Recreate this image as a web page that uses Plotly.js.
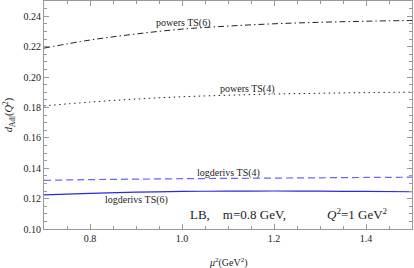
<!DOCTYPE html>
<html><head><meta charset="utf-8">
<script src="https://cdn.plot.ly/plotly-3.0.1.min.js"></script>
<style>html,body{margin:0;padding:0;background:#fff}#c{width:414px;height:268px}</style>
</head><body><div id="c"></div>
<script>
const mu2 = [0.7, 0.8, 0.9, 1.0, 1.1, 1.2, 1.3, 1.4, 1.5];
const powersTS6 = [0.219, 0.2243, 0.2283, 0.2315, 0.2335, 0.235, 0.236, 0.2367, 0.2372];
const powersTS4 = [0.181, 0.1835, 0.1855, 0.187, 0.188, 0.1888, 0.1893, 0.1897, 0.190];
const logderivsTS4 = [0.132, 0.1325, 0.1328, 0.1331, 0.1333, 0.1335, 0.1337, 0.1339, 0.1341];
const logderivsTS6 = [0.1224, 0.1235, 0.1242, 0.1247, 0.1249, 0.125, 0.1249, 0.1247, 0.1245];
const xTicks = [0.8, 1.0, 1.2, 1.4];
const xTickText = ["0.8", "1.0", "1.2", "1.4"];
const yTicks = [0.10, 0.12, 0.14, 0.16, 0.18, 0.20, 0.22, 0.24];
const yTickText = ["0.10", "0.12", "0.14", "0.16", "0.18", "0.20", "0.22", "0.24"];

const F = "Liberation Serif, Times New Roman, serif";
const traces = [
  {x: mu2, y: powersTS6, mode: "lines", line: {color: "#222", width: 1, dash: "6px,3px,1.5px,3px", shape: "spline"}},
  {x: mu2, y: powersTS4, mode: "lines", line: {color: "#222", width: 1, dash: "1.5px,3.5px", shape: "spline"}},
  {x: mu2, y: logderivsTS4, mode: "lines", line: {color: "#6666ff", width: 1.2, dash: "7px,4px", shape: "spline"}},
  {x: mu2, y: logderivsTS6, mode: "lines", line: {color: "#2b2bdf", width: 1.2, shape: "spline"}}
];
const ax = {
  showline: true, linecolor: "#999", linewidth: 1, mirror: "ticks",
  ticks: "inside", ticklen: 5, tickcolor: "#999", showgrid: false, zeroline: false,
  tickfont: {family: F, size: 10, color: "#222"}
};
const layout = {
  width: 414, height: 268,
  margin: {l: 44, r: 2, t: 1, b: 39},
  paper_bgcolor: "#fff", plot_bgcolor: "#fff",
  showlegend: false,
  font: {family: F, color: "#222"},
  xaxis: Object.assign({}, ax, {
    range: [0.7, 1.5], tickvals: xTicks, ticktext: xTickText,
    minor: {dtick: 0.05, tick0: 0.7, ticks: "inside", ticklen: 3, tickcolor: "#999"}
  }),
  yaxis: Object.assign({}, ax, {
    range: [0.10, 0.25], tickvals: yTicks, ticktext: yTickText,
    minor: {dtick: 0.005, tick0: 0.1, ticks: "inside", ticklen: 3, tickcolor: "#999"},
    title: {text: "<i>d</i><sub>Adl</sub>(<i>Q</i><sup>2</sup>)", font: {family: F, size: 10.5}, standoff: 8}
  }),
  annotations: [
    {xref: "paper", yref: "paper", x: 0.5, y: -0.145, yanchor: "middle", text: "<i>μ</i><sup>2</sup>(GeV<sup>2</sup>)", showarrow: false, font: {family: F, size: 10}},
    {x: 1.004, y: 0.2356, text: "powers TS(6)", showarrow: false, font: {family: F, size: 10}},
    {x: 1.142, y: 0.1923, text: "powers TS(4)", showarrow: false, font: {family: F, size: 10}},
    {x: 1.10, y: 0.1367, text: "logderivs TS(4)", showarrow: false, font: {family: F, size: 10}},
    {x: 0.90, y: 0.119, text: "logderivs TS(6)", showarrow: false, font: {family: F, size: 10}},
    {x: 1.013, y: 0.1098, xanchor: "left", text: "LB,    m=0.8 GeV,", showarrow: false, font: {family: F, size: 13}},
    {x: 1.311, y: 0.1098, xanchor: "left", text: "<i>Q</i><sup>2</sup>=1 GeV<sup>2</sup>", showarrow: false, font: {family: F, size: 13}}
  ]
};
Plotly.newPlot("c", traces, layout, {staticPlot: true, displayModeBar: false});
</script></body></html>
